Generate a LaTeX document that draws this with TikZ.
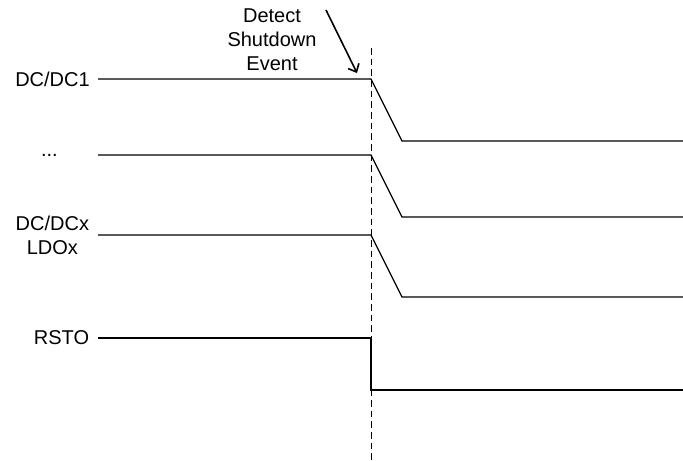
\documentclass[tikz,border=0pt]{standalone}
\usepackage{fontspec}
\setmainfont{Liberation Sans}
\usetikzlibrary{positioning,arrows.meta}

\begin{document}
\begin{tikzpicture}[x=0.75pt,y=-0.75pt,
    wave/.style={line width=0.9pt},
    sig/.style={font=\fontsize{15}{18}\selectfont, align=center, inner sep=0pt},
    evtline/.style={dash pattern=on 5pt off 3pt, line width=0.6pt},
    pointer/.style={-{Straight Barb[length=5pt,width=9pt]}, line width=1.2pt}]
    \useasboundingbox (0,0) rectangle (683,461);

    % shutdown instant
    \coordinate (t_0) at (371,48);
    \coordinate (t_1) at (371,461);
    \draw[evtline] (t_0) -- (t_1);

    % DC/DC1
    \coordinate (a_0) at (98,79);
    \coordinate (a_1) at (371,79);
    \coordinate (a_2) at (402,141);
    \coordinate (a_3) at (683,141);
    \draw[wave] (a_0) -- (a_1) -- (a_2) -- (a_3);
    \node[sig, left=6pt of a_0] (dc1) {DC/DC1};

    % ...
    \coordinate (b_0) at (98,155);
    \coordinate (b_1) at (371,155);
    \coordinate (b_2) at (402,217);
    \coordinate (b_3) at (683,217);
    \draw[wave] (b_0) -- (b_1) -- (b_2) -- (b_3);
    \node[sig, left=30pt of b_0] (dots) {...};

    % DC/DCx, LDOx
    \coordinate (c_0) at (98,235);
    \coordinate (c_1) at (371,235);
    \coordinate (c_2) at (402,297);
    \coordinate (c_3) at (683,297);
    \draw[wave] (c_0) -- (c_1) -- (c_2) -- (c_3);
    \node[sig, left=6.5pt of c_0] (dcx) {DC/DCx\\LDOx};

    % RSTO
    \coordinate (r_0) at (98,338);
    \coordinate (r_1) at (371,338);
    \coordinate (r_2) at (371,390);
    \coordinate (r_3) at (683,390);
    \draw[wave] (r_0) -- (r_1) -- (r_2) -- (r_3);
    \node[sig, left=6.5pt of r_0] (rsto) {RSTO};

    % event
    \node[sig] (evt) at (272,40) {Detect\\Shutdown\\Event};
    \coordinate (p_0) at (326,10);
    \coordinate (p_1) at (357,73);
    \draw[pointer] (p_0) -- (p_1);
\end{tikzpicture}
\end{document}
